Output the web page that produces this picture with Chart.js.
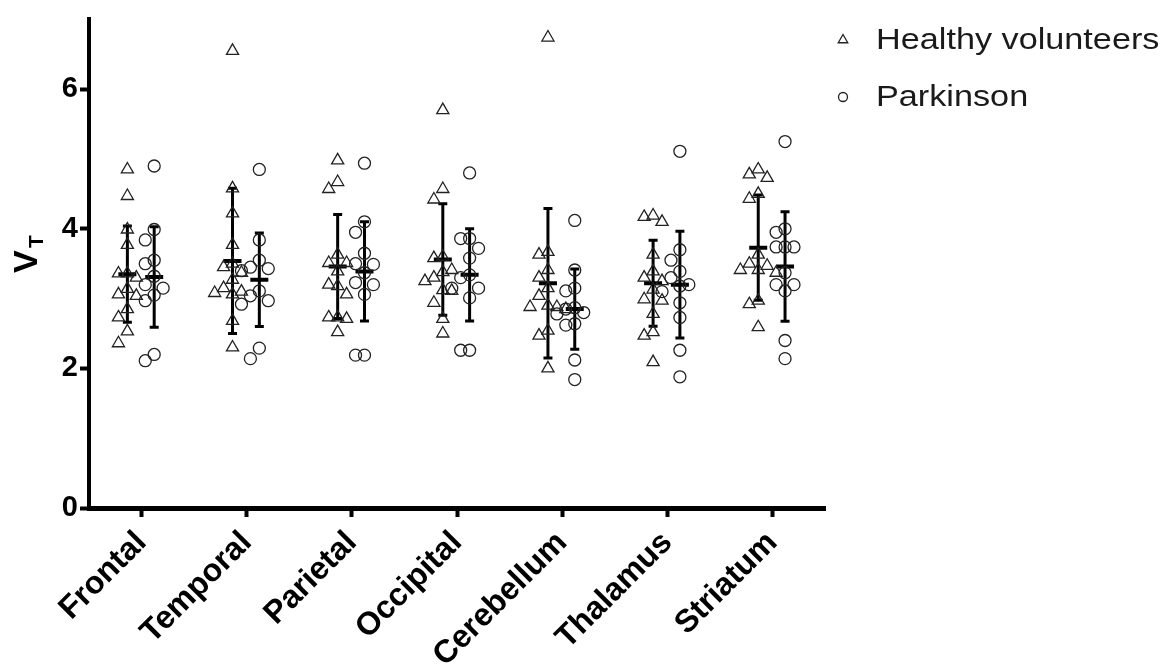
<!DOCTYPE html>
<html>
<head>
<meta charset="utf-8">
<script src="https://cdn.jsdelivr.net/npm/chart.js@4.4.1/dist/chart.umd.min.js"></script>
<style>
  html, body { margin: 0; padding: 0; background: #fff; }
  #wrap { width: 1176px; height: 669px; position: relative; }
</style>
</head>
<body>
<div id="wrap"><canvas id="grafico"></canvas></div>
<script>
// categorias (regiones) y valores de VT
const regiones = ['Frontal', 'Temporal', 'Parietal', 'Occipital', 'Cerebellum', 'Thalamus', 'Striatum'];

// voluntarios sanos, un array por region
const sanosFrontal = [4.85, 4.47, 3.99, 3.77, 3.36, 3.36, 3.3, 3.14, 3.06, 3.04, 2.85, 2.73, 2.53, 2.36];
const sanosTemporal = [6.55, 4.58, 4.22, 3.77, 3.5, 3.45, 3.37, 3.27, 3.15, 3.1, 3.08, 3.06, 2.68, 2.3];
const sanosParietal = [4.98, 4.67, 4.57, 3.63, 3.51, 3.51, 3.39, 3.2, 3.18, 3.06, 2.73, 2.73, 2.71, 2.52];
const sanosOccipital = [5.7, 4.57, 4.42, 3.6, 3.58, 3.41, 3.38, 3.3, 3.25, 3.12, 3.11, 2.94, 2.71, 2.5];
const sanosCerebellum = [6.74, 3.67, 3.63, 3.41, 3.3, 3.15, 3.04, 2.9, 2.88, 2.88, 2.85, 2.54, 2.47, 2.0];
const sanosThalamus = [4.19, 4.17, 4.1, 3.63, 3.39, 3.3, 3.25, 3.13, 2.99, 2.97, 2.78, 2.52, 2.47, 2.09];
const sanosStriatum = [4.85, 4.78, 4.73, 4.5, 4.43, 3.63, 3.5, 3.47, 3.41, 3.41, 3.37, 2.97, 2.92, 2.59];

// pacientes Parkinson
const parkFrontal = [4.9, 3.99, 3.84, 3.55, 3.5, 3.32, 3.2, 3.15, 3.05, 2.97, 2.2, 2.11];
const parkTemporal = [4.85, 3.84, 3.55, 3.45, 3.43, 3.4, 3.11, 3.04, 2.97, 2.92, 2.29, 2.14];
const parkParietal = [4.94, 4.1, 3.95, 3.65, 3.5, 3.49, 3.37, 3.23, 3.2, 3.06, 2.19, 2.19];
const parkOccipital = [4.8, 3.86, 3.86, 3.72, 3.58, 3.34, 3.3, 3.15, 3.15, 3.01, 2.26, 2.26];
const parkCerebellum = [4.12, 3.41, 3.15, 3.11, 2.87, 2.85, 2.8, 2.78, 2.64, 2.62, 2.12, 1.84];
const parkThalamus = [5.11, 3.7, 3.55, 3.39, 3.3, 3.2, 3.18, 3.1, 2.94, 2.73, 2.26, 1.88];
const parkStriatum = [5.25, 4.0, 3.95, 3.74, 3.74, 3.74, 3.37, 3.2, 3.2, 3.11, 2.4, 2.14];

// media y desviacion estandar (barras de error)
const sanosMedia = [3.35, 3.54, 3.46, 3.56, 3.22, 3.22, 3.73];
const sanosDE = [0.69, 1.04, 0.745, 0.8, 1.07, 0.615, 0.755];
const parkMedia = [3.31, 3.27, 3.39, 3.34, 2.85, 3.2, 3.46];
const parkDE = [0.72, 0.67, 0.71, 0.66, 0.575, 0.765, 0.785];

const yTicks = [0, 2, 4, 6];

const sanos = [sanosFrontal, sanosTemporal, sanosParietal, sanosOccipital, sanosCerebellum, sanosThalamus, sanosStriatum];
const park = [parkFrontal, parkTemporal, parkParietal, parkOccipital, parkCerebellum, parkThalamus, parkStriatum];

const fuente = 'Arial, "Liberation Sans", Helvetica, sans-serif';
const desvSanos = -0.135; // desplazamiento de cada grupo respecto a la marca
const desvPark = 0.12;
const paso = 0.085;       // separacion horizontal de puntos que se solapan

// reparte los puntos que se tocan en columnas (tipo "scatter dot plot")
function repartir(valores, centro) {
  const colocados = [];
  const puntos = [];
  const orden = valores.map((v, i) => i).sort((a, b) => valores[b] - valores[a]);
  orden.forEach(i => {
    const v = valores[i];
    for (let k = 0; k < 11; k++) {
      const col = k === 0 ? 0 : (k % 2 ? -Math.ceil(k / 2) : Math.ceil(k / 2));
      const choca = colocados.some(p => p.col === col && Math.abs(p.v - v) < 0.2);
      if (!choca) {
        colocados.push({ col: col, v: v });
        puntos.push({ x: centro + col * paso, y: v });
        break;
      }
    }
  });
  return puntos;
}

const puntosSanos = [];
const puntosPark = [];
sanos.forEach((vals, i) => puntosSanos.push(...repartir(vals, i + desvSanos)));
park.forEach((vals, i) => puntosPark.push(...repartir(vals, i + desvPark)));

// barras de error: linea vertical, topes y media
const lineasDE = [];
const topes = [];
const medias = [];
regiones.forEach((r, i) => {
  [[i + desvSanos, sanosMedia[i], sanosDE[i]], [i + desvPark, parkMedia[i], parkDE[i]]].forEach(([x, m, d]) => {
    lineasDE.push({ x: x, y: m - d }, { x: x, y: m + d }, { x: x, y: null });
    topes.push({ x: x, y: m - d }, { x: x, y: m + d });
    medias.push({ x: x, y: m });
  });
});

// leyenda dibujada a mano (arriba a la derecha)
const leyenda = {
  id: 'leyenda',
  afterDraw(chart) {
    const ctx = chart.ctx;
    const items = [
      { texto: 'Healthy volunteers', estilo: 'triangle', r: 5.5, y: 40 },
      { texto: 'Parkinson', estilo: 'circle', r: 4.5, y: 97 }
    ];
    items.forEach(it => {
      ctx.save();
      ctx.strokeStyle = '#222';
      ctx.fillStyle = 'rgba(0,0,0,0)';
      ctx.lineWidth = 1.3;
      Chart.helpers.drawPoint(ctx, { pointStyle: it.estilo, radius: it.r, borderWidth: 1.3 }, 843, it.y);
      ctx.restore();
      ctx.save();
      ctx.font = '29px ' + fuente;
      ctx.fillStyle = '#1a1a1a';
      ctx.textBaseline = 'middle';
      ctx.translate(876, it.y + 1);
      ctx.scale(1.18, 1);
      ctx.fillText(it.texto, 0, 0);
      ctx.restore();
    });
  }
};

// titulo del eje Y: V con subindice T
const tituloY = {
  id: 'tituloY',
  afterDraw(chart) {
    const ctx = chart.ctx;
    ctx.save();
    ctx.translate(37, 273);
    ctx.rotate(-Math.PI / 2);
    ctx.fillStyle = '#000';
    ctx.textBaseline = 'alphabetic';
    ctx.font = 'bold 34px ' + fuente;
    ctx.fillText('V', 0, 0);
    ctx.font = 'bold 21px ' + fuente;
    ctx.fillText('T', 25, 6);
    ctx.restore();
  }
};

new Chart(document.getElementById('grafico'), {
  type: 'scatter',
  data: {
    datasets: [
      {
        label: 'Healthy volunteers',
        data: puntosSanos,
        pointStyle: 'triangle',
        pointRadius: 7,
        borderWidth: 1.3,
        borderColor: '#222',
        backgroundColor: 'rgba(0,0,0,0)'
      },
      {
        label: 'Parkinson',
        data: puntosPark,
        pointStyle: 'circle',
        pointRadius: 6,
        borderWidth: 1.3,
        borderColor: '#222',
        backgroundColor: 'rgba(0,0,0,0)'
      },
      {
        label: 'DE',
        data: lineasDE,
        showLine: true,
        spanGaps: false,
        pointRadius: 0,
        borderWidth: 3,
        borderColor: '#000'
      },
      {
        label: 'topes',
        data: topes,
        pointStyle: 'line',
        pointRadius: 4.5,
        borderWidth: 3,
        borderColor: '#000'
      },
      {
        label: 'media',
        data: medias,
        pointStyle: 'line',
        pointRadius: 9,
        borderWidth: 4,
        borderColor: '#000'
      }
    ]
  },
  options: {
    responsive: true,
    maintainAspectRatio: false,
    animation: false,
    layout: { padding: { top: 0, right: 351, bottom: 0, left: 0 } },
    plugins: {
      legend: { display: false },
      tooltip: { enabled: false }
    },
    scales: {
      x: {
        type: 'linear',
        min: -0.5,
        max: 6.5,
        afterBuildTicks: s => { s.ticks = regiones.map((r, i) => ({ value: i })); },
        afterFit: s => { s.height = 161; },
        ticks: {
          autoSkip: false,
          minRotation: 45,
          maxRotation: 45,
          padding: 7,
          color: '#000',
          font: { family: fuente, size: 32, weight: 'bold' },
          callback: v => regiones[v]
        },
        grid: { drawOnChartArea: false, drawTicks: true, tickLength: 9, tickWidth: 4, tickColor: '#000' },
        border: { display: true, width: 5, color: '#000' }
      },
      y: {
        min: 0,
        max: 7,
        afterBuildTicks: s => { s.ticks = yTicks.map(v => ({ value: v })); },
        afterFit: s => { s.width = 89; },
        ticks: {
          padding: 2,
          color: '#000',
          font: { family: fuente, size: 29, weight: 'bold' }
        },
        grid: { drawOnChartArea: false, drawTicks: true, tickLength: 9, tickWidth: 4, tickColor: '#000' },
        border: { display: true, width: 4, color: '#000' }
      }
    }
  },
  plugins: [leyenda, tituloY]
});
</script>
</body>
</html>
